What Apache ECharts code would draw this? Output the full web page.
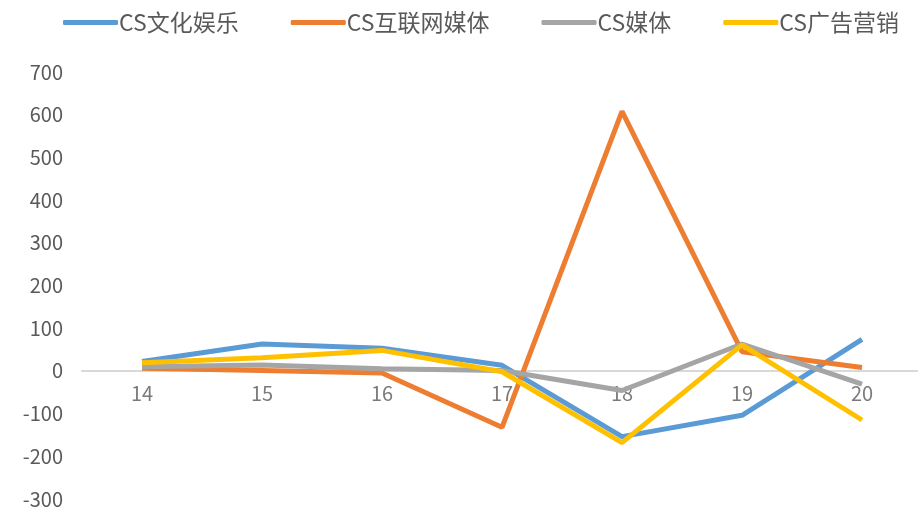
<!DOCTYPE html>
<html>
<head>
<meta charset="utf-8">
<script src="https://cdn.jsdelivr.net/npm/echarts@6/dist/echarts.min.js"></script>
<style>
  html, body { margin: 0; padding: 0; background: #fff; }
  #chart { width: 918px; height: 508px; }
</style>
</head>
<body>
<div id="chart"></div>
<script>
// Periods on the horizontal axis
const categories = ['14', '15', '16', '17', '18', '19', '20'];

// Series values per period
const culture = [22, 63, 53, 13, -154, -104, 74];      // CS文化娱乐
const internetMedia = [6, 1, -5, -132, 608, 45, 8];    // CS互联网媒体
const media = [10, 14, 5, 1, -46, 63, -31];            // CS媒体
const advertising = [19, 31, 48, -2, -168, 61, -115];  // CS广告营销

const seriesNames = ['CS文化娱乐', 'CS互联网媒体', 'CS媒体', 'CS广告营销'];
const seriesColors = ['#5B9BD5', '#ED7D31', '#A5A5A5', '#FFC000'];
const seriesData = [culture, internetMedia, media, advertising];

const textColor = '#595959';
const fontFamily = '"Noto Sans CJK SC", "Liberation Sans", sans-serif';

// Category labels sit just under the zero line, so they are drawn as
// transparent points at value 0 carrying a text label.
const zeroLabels = {
  type: 'scatter',
  silent: true,
  z: 1,
  symbolSize: 2,
  itemStyle: { color: 'rgba(255,255,255,0)' },
  labelLayout: { hideOverlap: false },
  data: categories.map(c => [c, 0]),
  label: {
    show: true,
    position: 'bottom',
    distance: 12,
    color: textColor,
    fontSize: 20,
    fontFamily: fontFamily,
    formatter: p => p.value[0]
  }
};

const chart = echarts.init(document.getElementById('chart'));
chart.setOption({
  animation: false,
  backgroundColor: '#ffffff',
  legend: {
    top: 6,
    left: 58,
    itemWidth: 55,
    itemHeight: 5,
    itemGap: 52,
    icon: 'roundRect',
    textStyle: { color: textColor, fontSize: 23, fontFamily: fontFamily, padding: [0, 0, 0, -4] },
    data: seriesNames
  },
  grid: { left: 82, width: 840, top: 72, height: 427, outerBoundsMode: 'none', containLabel: false },
  xAxis: {
    type: 'category',
    data: categories,
    boundaryGap: true,
    axisLine: { onZero: true, lineStyle: { color: '#D9D9D9', width: 2 } },
    axisTick: { show: false },
    axisLabel: { show: false }
  },
  yAxis: {
    type: 'value',
    min: -300,
    max: 700,
    interval: 100,
    axisLine: { show: false },
    axisTick: { show: false },
    splitLine: { show: false },
    axisLabel: { color: textColor, fontSize: 20, fontFamily: fontFamily, margin: 19 }
  },
  series: [zeroLabels].concat(seriesData.map((d, i) => ({
    name: seriesNames[i],
    type: 'line',
    z: 3,
    data: d,
    symbol: 'none',
    color: seriesColors[i],
    lineStyle: { width: 5, color: seriesColors[i] }
  })))
});
</script>
</body>
</html>
